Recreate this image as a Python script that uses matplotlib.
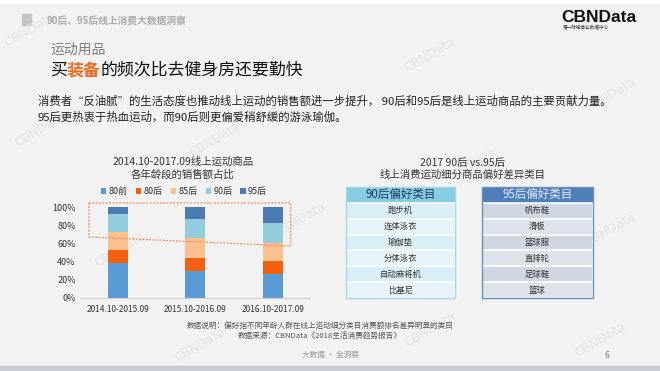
import matplotlib
matplotlib.use("Agg")
import matplotlib.pyplot as plt
from matplotlib.patches import Rectangle, Polygon
import numpy as np

plt.rcParams['font.family'] = ['Noto Sans CJK SC', 'DejaVu Sans']

# ---------------- data ----------------
periods = ["2014.10-2015.09", "2015.10-2016.09", "2016.10-2017.09"]
groups = ["80前", "80后", "85后", "90后", "95后"]
share_80q = [38.7, 29.2, 25.8]
share_80h = [13.7, 14.7, 14.4]
share_85h = [20.6, 21.8, 20.7]
share_90h = [19.3, 21.4, 21.8]
share_95h = [7.7, 12.9, 17.3]
yticks = [0, 20, 40, 60, 80, 100]

table_90_header = "90后偏好类目"
table_90_items = ["跑步机", "连体泳衣", "瑜伽垫", "分体泳衣", "自动麻将机", "比基尼"]
table_95_header = "95后偏好类目"
table_95_items = ["帆布鞋", "滑板", "篮球服", "直排轮", "足球鞋", "篮球"]

colors = ["#5B9BD5", "#F4600F", "#FAC08F", "#93CDDD", "#4A7AB0"]

W, H = 660, 371
fig = plt.figure(figsize=(W / 100, H / 100), dpi=100)
fig.patch.set_facecolor("#F2F2F2")

def fx(px):
    return px / W

def fy(py):
    return 1 - py / H

def px_axes(x0, y0, x1, y1, **kw):
    return fig.add_axes([fx(x0), fy(y1), fx(x1) - fx(x0), fy(y0) - fy(y1)], **kw)

# background frame
bg = fig.add_axes([0, 0, 1, 1], zorder=-10)
bg.set_xlim(0, W)
bg.set_ylim(H, 0)
bg.axis("off")
bg.add_patch(Rectangle((0, 0), W, 3, color="white"))
bg.add_patch(Rectangle((0, 366), W, 5, color="#C9CDD3"))
bg.add_patch(Rectangle((22, 14), 9, 11, color="#C4C4C4"))
# watermarks
for (wx, wy) in [(30, 30), (215, 140), (430, 55), (610, 95), (120, 250), (300, 220),
                 (470, 165), (610, 230), (200, 345), (430, 330), (600, 340), (40, 130)]:
    bg.text(wx, wy, "CBNData", fontsize=9, color="#E4E4E4", rotation=30,
            ha="center", va="center", family="DejaVu Sans")

# header texts
fig.text(fx(47), fy(21), "90后、95后线上消费大数据洞察", fontsize=7, color="#ABABAB",
         ha="left", va="center", weight="bold")
fig.text(fx(561), fy(17), "CBNData", fontsize=12.5, color="#111111", weight="bold",
         ha="left", va="center", family=["Liberation Sans", "DejaVu Sans"])
fig.text(fx(563), fy(28), "第一财经商业数据中心", fontsize=3.3, color="#333333",
         ha="left", va="center")
fig.text(fx(50), fy(50), "运动用品", fontsize=10, color="#808080", ha="left", va="center")
t1 = fig.text(fx(50), fy(70), "买", fontsize=12.2, color="#111111", ha="left", va="center")
fig.canvas.draw()
r = fig.canvas.get_renderer()
bb = t1.get_window_extent(r)
t2 = fig.text(bb.x1 / W, fy(70), "装备", fontsize=12.2, color="#F26A21", ha="left",
              va="center", weight="bold")
bb2 = t2.get_window_extent(r)
fig.text(bb2.x1 / W, fy(70), "的频次比去健身房还要勤快", fontsize=12.2, color="#111111",
         ha="left", va="center")

fig.text(fx(38), fy(101),
         "消费者“反油腻”的生活态度也推动线上运动的销售额进一步提升， 90后和95后是线上运动商品的主要贡献力量。",
         fontsize=8.2, color="#222222", ha="left", va="center")
fig.text(fx(38), fy(117), "95后更热衷于热血运动，而90后则更偏爱稍舒缓的游泳瑜伽。",
         fontsize=8.2, color="#222222", ha="left", va="center")

# ---------------- bar chart ----------------
ax = px_axes(80, 207.3, 310, 297.7)
ax.set_facecolor("none")
x = np.arange(len(periods))
stack = [share_80q, share_80h, share_85h, share_90h, share_95h]
bottom = np.zeros(len(periods))
for vals, c, g in zip(stack, colors, groups):
    ax.bar(x, vals, width=0.26, bottom=bottom, color=c, label=g, zorder=2)
    bottom += np.array(vals)
ax.set_xlim(-0.49, 2.48)
ax.set_ylim(0, 100)
ax.set_yticks(yticks)
ax.set_yticklabels([f"{v}%" for v in yticks], fontsize=6.5, color="#333333")
ax.set_xticks(x)
ax.set_xticklabels(periods, fontsize=6, color="#333333")
for s in ["top", "right", "left"]:
    ax.spines[s].set_visible(False)
ax.spines["bottom"].set_color("#D0D0D0")
ax.tick_params(length=0, pad=3)
ax.tick_params(axis="x", pad=5)
box = Polygon([(-0.374, 104.8), (2.232, 104.8), (2.232, 57.2), (-0.374, 67.1)],
              closed=True, fill=False, edgecolor="#F08A5A", linestyle=(0, (1.5, 1.2)),
              linewidth=0.9, clip_on=False, zorder=3)
ax.add_patch(box)

fig.text(fx(183), fy(162), "2014.10-2017.09线上运动商品", fontsize=7.5, color="#333333",
         ha="center", va="center")
fig.text(fx(183), fy(175), "各年龄段的销售额占比", fontsize=7.5, color="#333333",
         ha="center", va="center")
h, l = ax.get_legend_handles_labels()
leg = fig.legend(h, l, loc="center", bbox_to_anchor=(fx(184), fy(191.5)), ncol=5,
                 frameon=False, fontsize=6.5, handlelength=0.6, handleheight=0.6,
                 handletextpad=0.25, columnspacing=0.9, borderaxespad=0)
for t in leg.get_texts():
    t.set_color("#333333")

# ---------------- tables ----------------
fig.text(fx(463), fy(163), "2017 90后 vs.95后", fontsize=7.5, color="#333333",
         ha="center", va="center")
fig.text(fx(463), fy(175), "线上消费运动细分商品偏好差异类目", fontsize=7.5, color="#333333",
         ha="center", va="center")

def draw_table(x0, x1, header, items, hcolor, htext, rcolors, border):
    tax = px_axes(x0, 187, x1, 298)
    n = len(items)
    tax.set_xlim(0, 1)
    tax.set_ylim(n + 1, 0)
    tax.axis("off")
    tax.add_patch(Rectangle((0, 0), 1, 1, facecolor=hcolor, edgecolor="none"))
    tax.text(0.5, 0.5, header, ha="center", va="center", fontsize=8.3, color=htext)
    for i, it in enumerate(items):
        tax.add_patch(Rectangle((0, i + 1), 1, 1, facecolor=rcolors[i % 2],
                                edgecolor="white", linewidth=1.2))
        tax.text(0.5, i + 1.5, it, ha="center", va="center", fontsize=6, color="#333333")
    tax.add_patch(Rectangle((0, 0), 1, n + 1, fill=False, edgecolor=border,
                            linewidth=1.0, clip_on=False))

draw_table(346, 455, table_90_header, table_90_items, "#86CDE3", "#1F3A60",
           ["#D9EEF6", "#E6F3F8"], "#A5D7E9")
draw_table(482, 593, table_95_header, table_95_items, "#4F7FBA", "#E4EDF7",
           ["#CFD7E2", "#DDE3EB"], "#6A90C0")

# ---------------- footer ----------------
fig.text(fx(320), fy(326), "数据说明：偏好指不同年龄人群在线上运动细分类目消费额排名差异明显的类目",
         fontsize=5.5, color="#555555", ha="center", va="center")
fig.text(fx(320), fy(336), "数据来源：CBNData《2018生活消费趋势报告》",
         fontsize=5.5, color="#555555", ha="center", va="center")
fig.text(fx(330), fy(355), "大数据 · 全洞察", fontsize=5.5, color="#999999",
         ha="center", va="center")
fig.text(fx(607), fy(355), "6", fontsize=6, color="#777777", ha="center", va="center")

fig.savefig("out.png", dpi=100, facecolor=fig.get_facecolor())
